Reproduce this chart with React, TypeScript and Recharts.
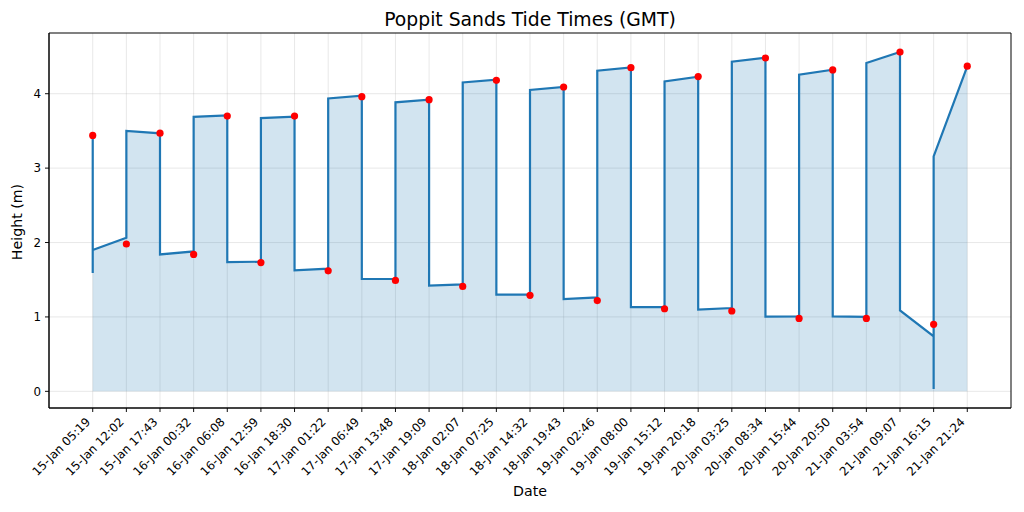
import React from "react";
import {
  ComposedChart,
  Area,
  Line,
  Scatter,
  XAxis,
  YAxis,
  CartesianGrid,
  ReferenceArea,
} from "recharts";

const tideLabels: string[] = [
  "15-Jan 05:19", "15-Jan 12:02", "15-Jan 17:43", "16-Jan 00:32", "16-Jan 06:08",
  "16-Jan 12:59", "16-Jan 18:30", "17-Jan 01:22", "17-Jan 06:49", "17-Jan 13:48",
  "17-Jan 19:09", "18-Jan 02:07", "18-Jan 07:25", "18-Jan 14:32", "18-Jan 19:43",
  "19-Jan 02:46", "19-Jan 08:00", "19-Jan 15:12", "19-Jan 20:18", "20-Jan 03:25",
  "20-Jan 08:34", "20-Jan 15:44", "20-Jan 20:50", "21-Jan 03:54", "21-Jan 09:07",
  "21-Jan 16:15", "21-Jan 21:24",
];

const tideHeights: number[] = [
  3.44, 1.98, 3.47, 1.84, 3.70, 1.73, 3.70, 1.62, 3.96, 1.49,
  3.92, 1.41, 4.18, 1.29, 4.09, 1.22, 4.35, 1.11, 4.23, 1.08,
  4.48, 0.98, 4.32, 0.98, 4.56, 0.90, 4.37,
];

// curve vertices: category index and height
const curveIndex: number[] = [
  0, 0, 0, 1, 1, 2, 2, 3, 3, 4, 4, 5, 5, 6, 6, 7, 7, 8, 8, 9, 9, 10, 10, 11, 11,
  12, 12, 13, 13, 14, 14, 15, 15, 16, 16, 17, 17, 18, 18, 19, 19, 20, 20, 21, 21,
  22, 22, 23, 23, 24, 24, 25, 25, 25, 26,
];
const curveHeight: number[] = [
  3.44, 1.59, 1.90, 2.065, 3.50, 3.467, 1.84, 1.88, 3.69, 3.709, 1.738, 1.742, 3.673,
  3.691, 1.626, 1.648, 3.937, 3.973, 1.51, 1.51, 3.884, 3.919, 1.42, 1.438, 4.152,
  4.188, 1.299, 1.299, 4.05, 4.09, 1.241, 1.263, 4.309, 4.354, 1.133, 1.133, 4.166,
  4.228, 1.097, 1.12, 4.43, 4.484, 1.005, 1.008, 4.255, 4.323, 1.008, 1.0, 4.412,
  4.56, 1.088, 0.739, 0.031, 3.158, 4.367,
];

const yTicks: number[] = [0, 1, 2, 3, 4];

const curveData = curveIndex.map((x, i) => ({ x, y: curveHeight[i] }));
const dotData = tideHeights.map((y, x) => ({ x, y }));
const xTicks = tideLabels.map((_, i) => i);

const FONT = "DejaVu Sans, sans-serif";
const TICK_FS = 11.85;
const Y_MIN = -0.224;
const Y_MAX = 4.816;

const XTick = (props: any) => {
  const { x, y, payload } = props;
  const ax = x - 1.7;
  const ay = y + 10.6;
  return (
    <text
      x={ax}
      y={ay}
      textAnchor="end"
      transform={`rotate(-45, ${ax}, ${ay})`}
      fontSize={TICK_FS}
      fontFamily={FONT}
      fill="#000"
    >
      {tideLabels[payload.value]}
    </text>
  );
};

const YTick = (props: any) => {
  const { x, y, payload } = props;
  return (
    <text x={x} y={y + 4.3} textAnchor="end" fontSize={TICK_FS} fontFamily={FONT} fill="#000">
      {payload.value}
    </text>
  );
};

const Dot = (props: any) => <circle cx={props.cx} cy={props.cy} r={3.6} fill="#ff0000" />;

export default function App() {
  return (
    <div style={{ position: "absolute", left: 0, top: 0, width: 1024, height: 512, background: "#fff" }}>
      <ComposedChart
        width={1024}
        height={512}
        margin={{ top: 33, right: 13, bottom: 34, left: 19 }}
      >
        <CartesianGrid stroke="#b0b0b0" strokeOpacity={0.3} strokeWidth={0.95} />
        <XAxis
          type="number"
          dataKey="x"
          domain={[-1.3, 27.3]}
          ticks={xTicks}
          interval={0}
          height={70}
          allowDataOverflow
          axisLine={{ stroke: "#000", strokeWidth: 0.95 }}
          tickLine={{ stroke: "#000", strokeWidth: 0.95 }}
          tickSize={4}
          tickMargin={0}
          tick={<XTick />}
        />
        <YAxis
          type="number"
          domain={[Y_MIN, Y_MAX]}
          ticks={yTicks}
          interval={0}
          width={30}
          allowDataOverflow
          axisLine={{ stroke: "#000", strokeWidth: 0.95 }}
          tickLine={{ stroke: "#000", strokeWidth: 0.95 }}
          tickSize={4}
          tickMargin={4}
          tick={<YTick />}
        />
        <Area
          data={curveData}
          dataKey="y"
          type="linear"
          baseValue={0}
          fill="#1f77b4"
          fillOpacity={0.2}
          stroke="none"
          isAnimationActive={false}
        />
        <Line
          data={curveData}
          dataKey="y"
          type="linear"
          stroke="#1f77b4"
          strokeWidth={2.2}
          dot={false}
          activeDot={false}
          isAnimationActive={false}
        />
        <Scatter data={dotData} dataKey="y" fill="#ff0000" shape={<Dot />} isAnimationActive={false} />
        <ReferenceArea
          x1={-1.3}
          x2={27.3}
          y1={Y_MIN}
          y2={Y_MAX}
          fill="none"
          stroke="#000"
          strokeWidth={0.95}
          ifOverflow="visible"
        />
      </ComposedChart>
      <svg
        width={1024}
        height={512}
        style={{ position: "absolute", left: 0, top: 0, pointerEvents: "none" }}
      >
        <text x={530} y={25.7} textAnchor="middle" fontFamily={FONT} fontSize={18.8} fill="#000">
          Poppit Sands Tide Times (GMT)
        </text>
        <text x={530} y={495.5} textAnchor="middle" fontFamily={FONT} fontSize={14.2} fill="#000">
          Date
        </text>
        <text
          x={22.3}
          y={222}
          textAnchor="middle"
          transform="rotate(-90, 22.3, 222)"
          fontFamily={FONT}
          fontSize={14.2}
          fill="#000"
        >
          Height (m)
        </text>
      </svg>
    </div>
  );
}
